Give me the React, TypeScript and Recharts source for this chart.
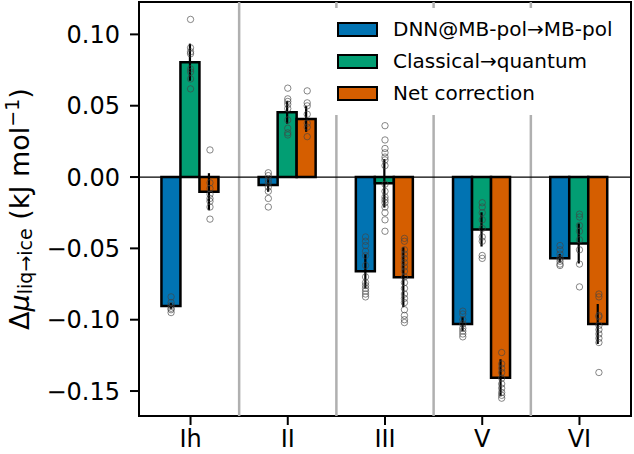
import { Bar, ComposedChart, ErrorBar, Legend, ReferenceArea, ReferenceLine, Scatter, XAxis, YAxis } from "recharts"

const phases = ["Ih", "II", "III", "V", "VI"]
const seriesNames = ["DNN@MB-pol→MB-pol", "Classical→quantum", "Net correction"]
const seriesColors = ["#0173B2", "#029E73", "#D55E00"]

// bar heights (kJ/mol) and error half-widths
const dnnMean = [-0.0904, -0.0056, -0.066, -0.103, -0.0569]
const dnnErr = [0.002, 0.0047, 0.012, 0.005, 0.003]
const quantumMean = [0.0805, 0.0454, -0.0044, -0.0367, -0.0466]
const quantumErr = [0.013, 0.008, 0.017, 0.012, 0.014]
const netMean = [-0.0103, 0.0407, -0.0702, -0.1407, -0.103]
const netErr = [0.013, 0.009, 0.021, 0.013, 0.014]

// individual runs (open circles)
const dnnSamples = [
    [-0.084, -0.088, -0.09, -0.092, -0.093, -0.095],
    [0.003, 0.001, -0.002, -0.004, -0.007, -0.01, -0.015, -0.021],
    [-0.042, -0.045, -0.048, -0.052, -0.055, -0.062, -0.07, -0.074, -0.076, -0.078, -0.08, -0.082, -0.084],
    [-0.094, -0.096, -0.1, -0.103, -0.106, -0.108, -0.11, -0.112],
    [-0.048, -0.051, -0.054, -0.057, -0.059, -0.061, -0.062],
]
const quantumSamples = [
    [0.1105, 0.0906, 0.0878, 0.0864, 0.0758, 0.0737, 0.0688, 0.0618],
    [0.0623, 0.0548, 0.053, 0.051, 0.048, 0.04, 0.0342, 0.031, 0.0295],
    [0.036, 0.026, 0.02, 0.017, 0.014, 0.012, 0.008, -0.005, -0.01, -0.014, -0.016, -0.018, -0.021, -0.025, -0.03, -0.038],
    [-0.018, -0.021, -0.025, -0.03, -0.036, -0.042, -0.045, -0.055, -0.057],
    [-0.026, -0.028, -0.034, -0.038, -0.044, -0.051, -0.061, -0.077],
]
const netSamples = [
    [0.019, -0.004, -0.008, -0.012, -0.015, -0.017, -0.021, -0.0295],
    [0.0604, 0.052, 0.0499, 0.044, 0.0377, 0.035, 0.0283],
    [-0.043, -0.045, -0.051, -0.054, -0.057, -0.06, -0.063, -0.066, -0.07, -0.074, -0.078, -0.082, -0.085, -0.088, -0.093, -0.097, -0.1, -0.102],
    [-0.123, -0.131, -0.134, -0.137, -0.141, -0.145, -0.148, -0.151, -0.153, -0.155],
    [-0.082, -0.084, -0.097, -0.098, -0.104, -0.107, -0.11, -0.113, -0.116, -0.137],
]

const yTicks = [-0.15, -0.1, -0.05, 0, 0.05, 0.1]

const font = "DejaVu Sans, sans-serif"
const barWidth = 0.2 // in category units

const data = phases.map((phase, i) => ({
    phase,
    dnn: dnnMean[i],
    dnnErr: dnnErr[i],
    quantum: quantumMean[i],
    quantumErr: quantumErr[i],
    net: netMean[i],
    netErr: netErr[i],
}))

const sampleSets = [dnnSamples, quantumSamples, netSamples]
const scatterData = sampleSets.map((sets, s) =>
    sets.flatMap((vals, i) => vals.map((v) => ({ x: i + (s - 1) * barWidth, y: v })))
)

const fmt = (v: number) => (v < 0 ? "\u2212" : "") + Math.abs(v).toFixed(2)

const Circle = (p: any) => (
    <circle cx={p.cx} cy={p.cy} r={3.2} fill="none" stroke="#444" strokeOpacity={0.8} strokeWidth={0.8} />
)

const YLabel = (props: any) => {
    const vb = props.viewBox
    const cx = 19
    const cy = vb.y + vb.height / 2
    return (
        <text
            x={cx}
            y={cy}
            transform={`rotate(-90 ${cx} ${cy})`}
            textAnchor="middle"
            dominantBaseline="central"
            fontSize={27}
            fill="#000"
            fontFamily={font}
        >
            Δ<tspan fontStyle="italic">μ</tspan>
            <tspan fontSize={19} dy={6}>liq→ice</tspan>
            <tspan dy={-6}> (kJ mol</tspan>
            <tspan fontSize={19} dy={-7}>−1</tspan>
            <tspan dy={7}>)</tspan>
        </text>
    )
}

const renderLegend = () => (
    <div style={{ background: "#fff", padding: "5px 0 6px 12px", fontFamily: font, fontSize: 20, color: "#000" }}>
        {seriesNames.map((name, i) => (
            <div key={name} style={{ display: "flex", alignItems: "center", height: 32 }}>
                <span
                    style={{
                        display: "block",
                        width: 37,
                        height: 11,
                        background: seriesColors[i],
                        border: "2px solid #000",
                        marginRight: 15,
                    }}
                />
                <span>{name}</span>
            </div>
        ))}
    </div>
)

export default function App() {
    const keys = ["dnn", "quantum", "net"]
    return (
        <div style={{ position: "absolute", left: 0, top: 0, fontFamily: font }}>
            <ComposedChart
                width={634}
                height={454}
                data={data}
                margin={{ top: 2, right: 3, bottom: 0, left: 0 }}
                barCategoryGap="20%"
                barGap={0}
            >
                <XAxis
                    xAxisId="num"
                    type="number"
                    dataKey="x"
                    domain={[-0.53, 4.53]}
                    allowDataOverflow
                    ticks={phases.map((_, i) => i)}
                    tickFormatter={(v) => phases[v]}
                    height={38}
                    axisLine={false}
                    tickSize={9}
                    tickMargin={5}
                    tickLine={{ stroke: "#000", strokeWidth: 2 }}
                    tick={{ fill: "#000", fontSize: 24 }}
                />
                <XAxis xAxisId="cat" dataKey="phase" hide height={0} padding={{ left: 3, right: 3 }} />
                <YAxis
                    type="number"
                    domain={[-0.1675, 0.1227]}
                    allowDataOverflow
                    ticks={yTicks}
                    tickFormatter={fmt}
                    width={139}
                    axisLine={false}
                    tickSize={9}
                    tickMargin={10}
                    tickLine={{ stroke: "#000", strokeWidth: 2 }}
                    tick={{ fill: "#000", fontSize: 24 }}
                    label={{ content: YLabel }}
                />
                {phases.slice(1).map((_, i) => (
                    <ReferenceLine key={i} xAxisId="num" x={i + 0.5} stroke="#b0b0b0" strokeWidth={2.5} />
                ))}
                <ReferenceLine xAxisId="num" y={0} stroke="#000" strokeWidth={1.3} />
                {keys.map((k, s) => (
                    <Bar
                        key={k}
                        xAxisId="cat"
                        dataKey={k}
                        fill={seriesColors[s]}
                        stroke="#000"
                        strokeWidth={2.5}
                        isAnimationActive={false}
                    >
                        <ErrorBar dataKey={`${k}Err`} width={0} stroke="#000" strokeWidth={2.2} />
                    </Bar>
                ))}
                {scatterData.map((pts, s) => (
                    <Scatter
                        key={s}
                        xAxisId="num"
                        data={pts}
                        dataKey="y"
                        shape={Circle}
                        isAnimationActive={false}
                    />
                ))}
                <ReferenceArea
                    xAxisId="num"
                    x1={-0.53}
                    x2={4.53}
                    y1={-0.1675}
                    y2={0.1227}
                    fill="none"
                    fillOpacity={0}
                    stroke="#000"
                    strokeWidth={2}
                    ifOverflow="visible"
                />
                <Legend
                    content={renderLegend}
                    layout="vertical"
                    align="center"
                    verticalAlign="middle"
                    wrapperStyle={{ top: 8, left: 325, width: 300 }}
                />
            </ComposedChart>
        </div>
    )
}
